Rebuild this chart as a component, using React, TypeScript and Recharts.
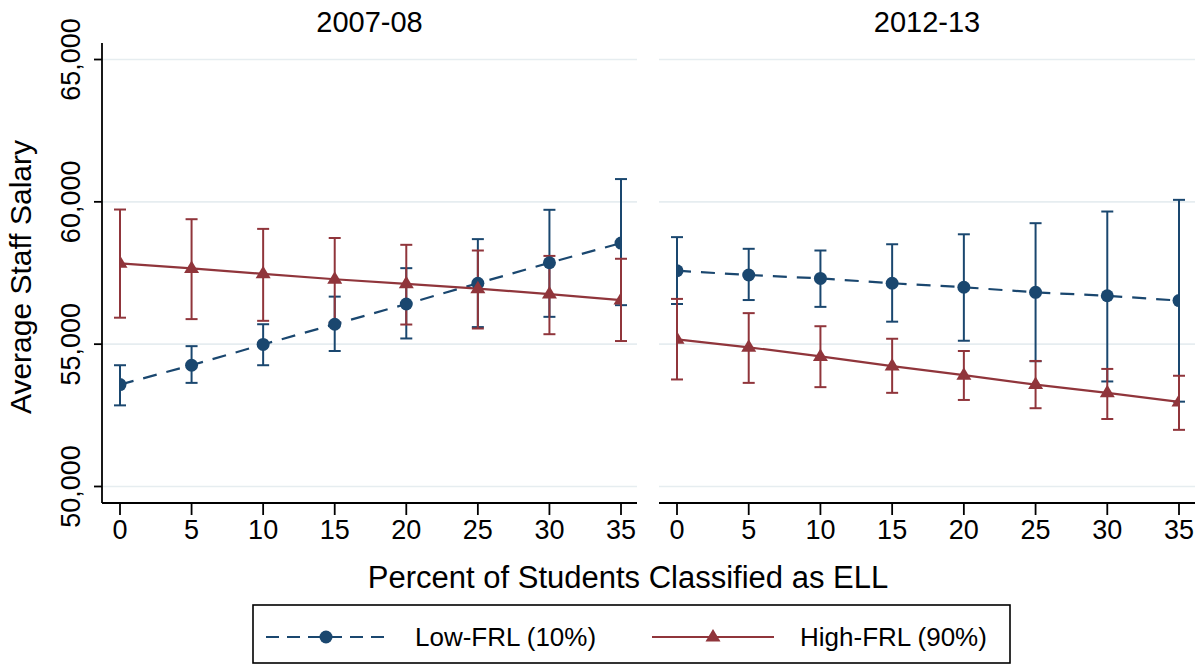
import React from 'react';
import { LineChart, Line, XAxis, YAxis, ErrorBar, ReferenceLine } from 'recharts';

const BLUE = '#1a476f';
const RED = '#90353b';
const GRID = '#e6edf0';
const FONT = '"Liberation Sans", Arial, sans-serif';

const ELL_PCT = [0, 5, 10, 15, 20, 25, 30, 35];
const X_TICKS = [0, 5, 10, 15, 20, 25, 30, 35];
const Y_TICKS = [50000, 55000, 60000, 65000];
const Y_DOMAIN = [49420, 65580];
const PANEL_TITLES = ['2007-08', '2012-13'];
const SERIES_NAMES = ['Low-FRL (10%)', 'High-FRL (90%)'];

// 2007-08
const low0708 = [53580, 54260, 54990, 55700, 56410, 57140, 57860, 58550];
const low0708Lo = [52850, 53640, 54260, 54760, 55200, 55600, 55960, 56370];
const low0708Hi = [54260, 54930, 55700, 56670, 57670, 58690, 59720, 60800];
const high0708 = [57840, 57660, 57470, 57280, 57120, 56950, 56760, 56550];
const high0708Lo = [55930, 55880, 55820, 55760, 55690, 55550, 55350, 55110];
const high0708Hi = [59730, 59390, 59050, 58730, 58490, 58290, 58100, 58000];

// 2012-13
const low1213 = [57580, 57430, 57310, 57140, 57000, 56820, 56700, 56530];
const low1213Lo = [56410, 56550, 56310, 55790, 55120, 54400, 53690, 52980];
const low1213Hi = [58760, 58350, 58290, 58510, 58860, 59250, 59660, 60070];
const high1213 = [55170, 54890, 54570, 54230, 53910, 53580, 53290, 52970];
const high1213Lo = [53760, 53640, 53490, 53290, 53040, 52750, 52370, 51990];
const high1213Hi = [56590, 56090, 55630, 55190, 54760, 54410, 54130, 53890];

function buildRows(low: number[], lowLo: number[], lowHi: number[], high: number[], highLo: number[], highHi: number[]) {
  return ELL_PCT.map((x, i) => ({
    x,
    low: low[i],
    lowErr: [low[i] - lowLo[i], lowHi[i] - low[i]],
    high: high[i],
    highErr: [high[i] - highLo[i], highHi[i] - high[i]],
  }));
}

const rows0708 = buildRows(low0708, low0708Lo, low0708Hi, high0708, high0708Lo, high0708Hi);
const rows1213 = buildRows(low1213, low1213Lo, low1213Hi, high1213, high1213Lo, high1213Hi);

const CircleDot = (props: any) => {
  const { cx, cy, index } = props;
  if (cx == null || cy == null) return null;
  return <circle key={`c${index}`} cx={cx} cy={cy} r={6.5} fill={BLUE} />;
};

function trianglePath(cx: number, cy: number, half: number, up: number, down: number) {
  return `M${cx},${cy - up} L${cx + half},${cy + down} L${cx - half},${cy + down} Z`;
}

const TriangleDot = (props: any) => {
  const { cx, cy, index } = props;
  if (cx == null || cy == null) return null;
  return <path key={`t${index}`} d={trianglePath(cx, cy, 7.5, 8, 4.5)} fill={RED} />;
};

const YTick = (props: any) => {
  const { x, y, payload } = props;
  const tx = x - 12;
  return (
    <text x={tx} y={y} transform={`rotate(-90 ${tx} ${y})`} textAnchor="middle" fontSize={27} fill="#000" fontFamily={FONT}>
      {Number(payload.value).toLocaleString('en-US')}
    </text>
  );
};

interface PanelProps {
  data: ReturnType<typeof buildRows>;
  showY: boolean;
  width: number;
  marginLeft: number;
  marginRight: number;
}

function Panel({ data, showY, width, marginLeft, marginRight }: PanelProps) {
  return (
    <LineChart
      width={width}
      height={560}
      data={data}
      margin={{ top: 43, right: marginRight, bottom: 0, left: marginLeft }}
    >
      {Y_TICKS.map((t) => (
        <ReferenceLine key={t} y={t} stroke={GRID} strokeWidth={1.6} />
      ))}
      <XAxis
        type="number"
        dataKey="x"
        domain={[0, 35]}
        ticks={X_TICKS}
        interval={0}
        padding={{ left: 18, right: 16 }}
        height={57}
        tickSize={12}
        tickMargin={5}
        axisLine={{ stroke: '#000', strokeWidth: 1.8 }}
        tickLine={{ stroke: '#000', strokeWidth: 1.8 }}
        tick={{ fill: '#000', fontSize: 27, fontFamily: FONT }}
        allowDataOverflow
      />
      <YAxis
        type="number"
        domain={Y_DOMAIN}
        ticks={Y_TICKS}
        interval={0}
        hide={!showY}
        width={102}
        tickSize={8}
        axisLine={{ stroke: '#000', strokeWidth: 1.8 }}
        tickLine={{ stroke: '#000', strokeWidth: 1.8 }}
        tick={<YTick />}
        allowDataOverflow
      />
      <Line
        type="linear"
        dataKey="low"
        stroke={BLUE}
        strokeWidth={2.2}
        strokeDasharray="14 10"
        dot={<CircleDot />}
        activeDot={false}
        isAnimationActive={false}
      >
        <ErrorBar dataKey="lowErr" direction="y" width={6} stroke={BLUE} strokeWidth={2} />
      </Line>
      <Line
        type="linear"
        dataKey="high"
        stroke={RED}
        strokeWidth={2.2}
        dot={<TriangleDot />}
        activeDot={false}
        isAnimationActive={false}
      >
        <ErrorBar dataKey="highErr" direction="y" width={6} stroke={RED} strokeWidth={2} />
      </Line>
    </LineChart>
  );
}

export default function App() {
  return (
    <div style={{ position: 'absolute', left: 0, top: 0, width: 1203, height: 666, background: '#fff', fontFamily: FONT }}>
      <svg width={1203} height={666} style={{ position: 'absolute', left: 0, top: 0 }}>
        <text x={369.5} y={32} textAnchor="middle" fontSize={29} fill="#000">{PANEL_TITLES[0]}</text>
        <text x={927} y={32} textAnchor="middle" fontSize={29} fill="#000">{PANEL_TITLES[1]}</text>
        <text x={31} y={277} transform="rotate(-90 31 277)" textAnchor="middle" fontSize={30} fill="#000">
          Average Staff Salary
        </text>
        <text x={628} y={588} textAnchor="middle" fontSize={31} fill="#000">
          Percent of Students Classified as ELL
        </text>
        <rect x={253} y={605} width={757} height={58} fill="#fff" stroke="#000" strokeWidth={1.6} />
        <line x1={266} y1={637} x2={388} y2={637} stroke={BLUE} strokeWidth={2.2} strokeDasharray="13 8" />
        <circle cx={326} cy={637} r={6.5} fill={BLUE} />
        <text x={415} y={646} fontSize={26} fill="#000">{SERIES_NAMES[0]}</text>
        <line x1={652} y1={637} x2={774} y2={637} stroke={RED} strokeWidth={2.2} />
        <path d={trianglePath(713, 637, 7.5, 8, 4.5)} fill={RED} />
        <text x={800} y={646} fontSize={26} fill="#000">{SERIES_NAMES[1]}</text>
      </svg>
      <div style={{ position: 'absolute', left: 0, top: 0 }}>
        <Panel data={rows0708} showY width={650} marginLeft={0} marginRight={13} />
      </div>
      <div style={{ position: 'absolute', left: 650, top: 0 }}>
        <Panel data={rows1213} showY={false} width={553} marginLeft={9} marginRight={8} />
      </div>
    </div>
  );
}
